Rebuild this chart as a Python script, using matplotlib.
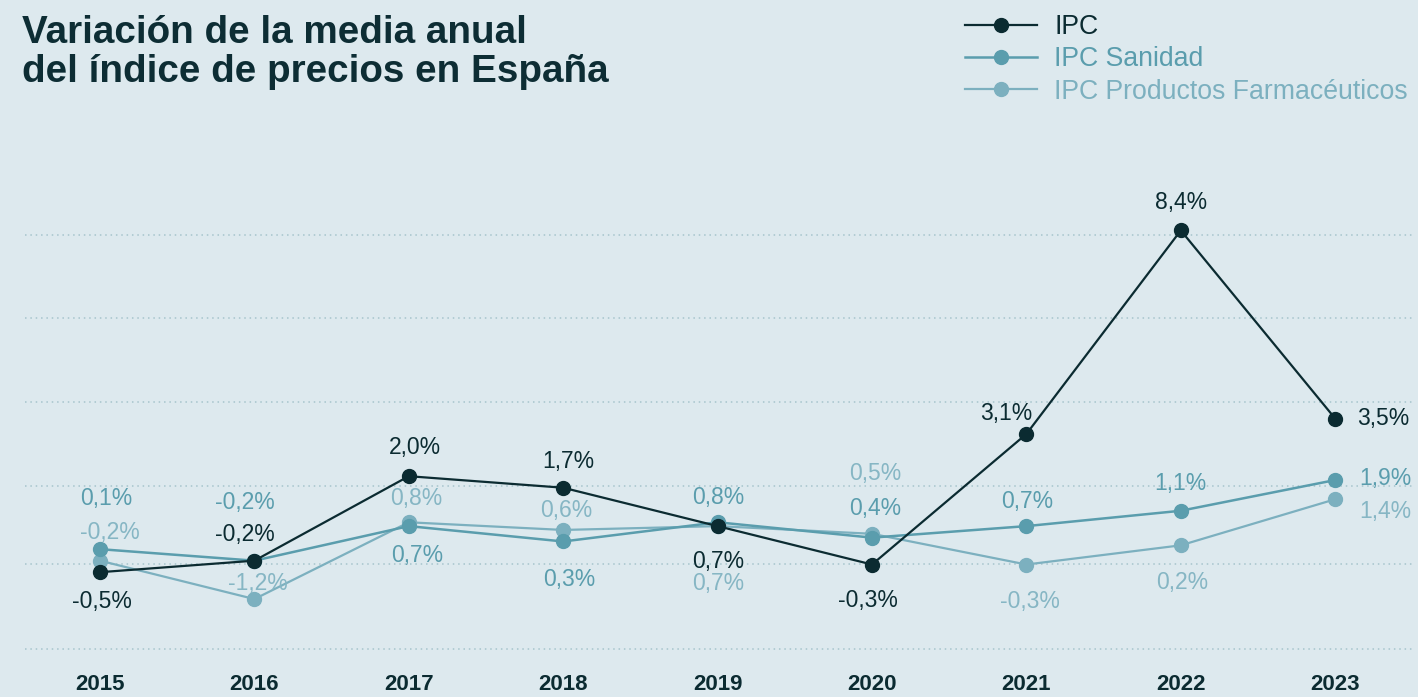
import matplotlib
matplotlib.use("Agg")
import matplotlib.pyplot as plt

plt.rcParams['font.family'] = ['Liberation Sans', 'DejaVu Sans']

# datos
years = ["2015", "2016", "2017", "2018", "2019", "2020", "2021", "2022", "2023"]
ipc = [-0.5, -0.2, 2.0, 1.7, 0.7, -0.3, 3.1, 8.4, 3.5]
ipc_sanidad = [0.1, -0.2, 0.7, 0.3, 0.8, 0.4, 0.7, 1.1, 1.9]
ipc_farma = [-0.2, -1.2, 0.8, 0.6, 0.7, 0.5, -0.3, 0.2, 1.4]
grid_vals = [8.29, 6.11, 3.92, 1.75, -0.28, -2.50]

# desplazamiento de las etiquetas (pixeles)
off_ipc = [(2, -29), (-10, 26), (6, 29), (5, 26), (1, -35), (-4, -36), (-20, 20), (0, 28), (48, 0)]
off_san = [(6, 51), (-10, 58), (8, -29), (6, -38), (1, 25), (3, 29), (1, 25), (0, 27), (50, 2)]
off_far = [(10, 28), (3, 16), (7, 24), (3, 19), (1, -57), (3, 60), (4, -37), (1, -37), (50, -12)]

bg = "#dde9ee"
c_ipc = "#0b2b31"
c_san = "#5a9dad"
c_far = "#7cb0bf"
c_far_txt = "#86b6c4"

fig = plt.figure(figsize=(14.18, 6.97), dpi=100)
fig.patch.set_facecolor(bg)
ax = fig.add_axes([0, 0, 1, 1])
ax.set_facecolor(bg)
ax.axis("off")

px_x = 154.4   # pixeles por año
px_y = 38.4    # pixeles por punto
x0, y0 = 100, 553
ax.set_xlim(-x0 / px_x, (1418 - x0) / px_x)
ax.set_ylim((y0 - 697) / px_y, y0 / px_y)

xs = list(range(len(years)))

ax.hlines(grid_vals, (25 - x0) / px_x, (1412 - x0) / px_x, colors="#a6c4cc",
          linestyles=(0, (1, 2.5)), linewidth=1.1, zorder=1)

l_far, = ax.plot(xs, ipc_farma, color=c_far, lw=1.6, marker="o", ms=10, zorder=3,
                 label="IPC Productos Farmacéuticos")
l_san, = ax.plot(xs, ipc_sanidad, color=c_san, lw=1.8, marker="o", ms=10, zorder=4,
                 label="IPC Sanidad")
l_ipc, = ax.plot(xs, ipc, color=c_ipc, lw=1.6, marker="o", ms=10, zorder=5, label="IPC")


def fmt(v):
    return ("%.1f" % v).replace(".", ",") + "%"


for vals, offs, col in [(ipc_farma, off_far, c_far_txt), (ipc_sanidad, off_san, c_san),
                        (ipc, off_ipc, c_ipc)]:
    for i, v in enumerate(vals):
        ax.annotate(fmt(v), (i, v), xytext=offs[i], textcoords="offset pixels",
                    ha="center", va="center", fontsize=16.5, color=col, zorder=6)

for i, y in enumerate(years):
    ax.text(i, (y0 - 684) / px_y, y, ha="center", va="center", fontsize=16,
            fontweight="bold", color=c_ipc)

fig.text(22 / 1418, 1 - 43 / 697, "Variación de la media anual", fontsize=27.8,
         fontweight="bold", color="#0d2d34", va="baseline")
fig.text(22 / 1418, 1 - 82 / 697, "del índice de precios en España", fontsize=27.8,
         fontweight="bold", color="#0d2d34", va="baseline")

leg = ax.legend(handles=[l_ipc, l_san, l_far], loc="upper left",
                bbox_to_anchor=(965 / 1418, 1 - 14 / 697), bbox_transform=fig.transFigure,
                frameon=False, fontsize=19.2, handlelength=2.7, handletextpad=0.64,
                labelspacing=0.24, borderpad=0, borderaxespad=0, labelcolor="linecolor")

fig.savefig("out.png", dpi=100, facecolor=bg)
